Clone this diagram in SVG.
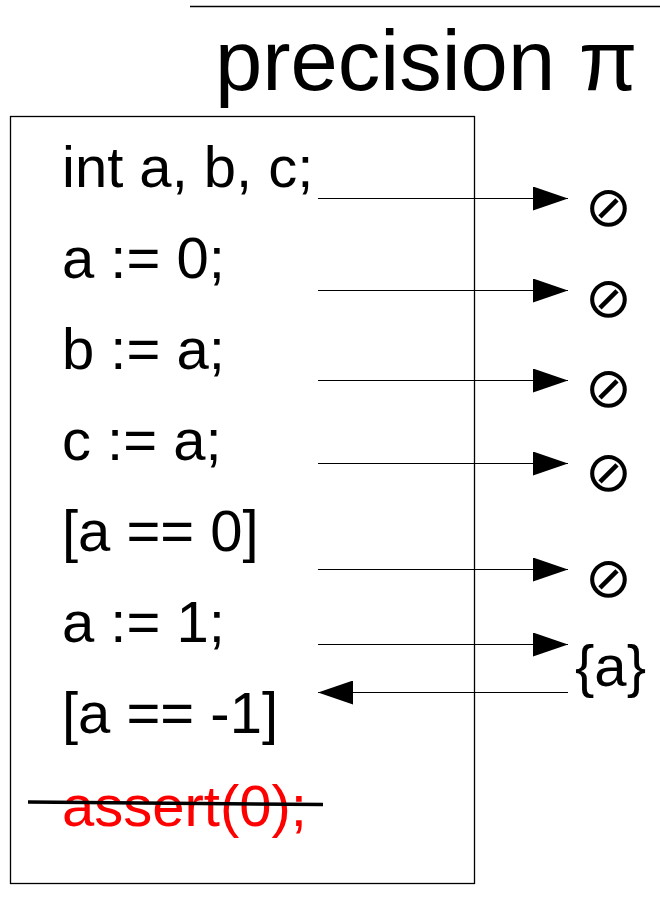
<svg xmlns="http://www.w3.org/2000/svg" width="660" height="917" viewBox="0 0 660 917">
<style>
.code{font-family:"Liberation Sans",Arial,sans-serif;font-size:58px;fill:#000}
.red{fill:#ff0000}
.set{font-family:"DejaVu Sans",sans-serif;font-weight:200;font-size:56px;fill:#000}
.conn{stroke:#000;stroke-width:1;fill:none}
</style>
<defs>
<marker id="ah" markerUnits="userSpaceOnUse" markerWidth="36" markerHeight="24" refX="35" refY="12" orient="auto">
<path d="M0,0 L35,12 L0,24 Z" fill="#000"/>
</marker>
</defs>
<rect width="660" height="917" fill="#fff"/>
<g id="title">
<line x1="190" y1="6.5" x2="660" y2="6.5" stroke="#000" stroke-width="1.5"/>
<text x="215" y="90" font-family="Liberation Sans,Arial,sans-serif" font-size="85" fill="#000">precision π</text>
</g>
<g id="program">
<rect x="10.5" y="116.5" width="464" height="767" fill="none" stroke="#000" stroke-width="1.3"/>
<text class="code" x="62" y="187">int a, b, c;</text>
<text class="code" x="62" y="278">a := 0;</text>
<text class="code" x="62" y="369">b := a;</text>
<text class="code" x="62" y="460">c := a;</text>
<text class="code" x="62" y="551">[a == 0]</text>
<text class="code" x="62" y="642">a := 1;</text>
<text class="code" x="62" y="733">[a == -1]</text>
<text class="code red" x="62" y="826">assert(0);</text>
<line x1="28" y1="802" x2="323" y2="804.5" stroke="#000" stroke-width="3.5"/>
</g>
<g id="connectors">
<line class="conn" x1="318" y1="198.5" x2="568" y2="198.5" marker-end="url(#ah)"/>
<line class="conn" x1="318" y1="290.5" x2="568" y2="290.5" marker-end="url(#ah)"/>
<line class="conn" x1="318" y1="380.5" x2="568" y2="380.5" marker-end="url(#ah)"/>
<line class="conn" x1="318" y1="463.5" x2="568" y2="463.5" marker-end="url(#ah)"/>
<line class="conn" x1="318" y1="569.5" x2="568" y2="569.5" marker-end="url(#ah)"/>
<line class="conn" x1="318" y1="644.5" x2="568" y2="644.5" marker-end="url(#ah)"/>
<line class="conn" x1="568" y1="692.5" x2="318" y2="692.5" marker-end="url(#ah)"/>
</g>
<g id="states">
<text class="set" x="608" y="226" text-anchor="middle">⊘</text>
<text class="set" x="608" y="317" text-anchor="middle">⊘</text>
<text class="set" x="608" y="407" text-anchor="middle">⊘</text>
<text class="set" x="608" y="491" text-anchor="middle">⊘</text>
<text class="set" x="608" y="597" text-anchor="middle">⊘</text>
<text class="code" x="575" y="686">{a}</text>
</g>
</svg>
